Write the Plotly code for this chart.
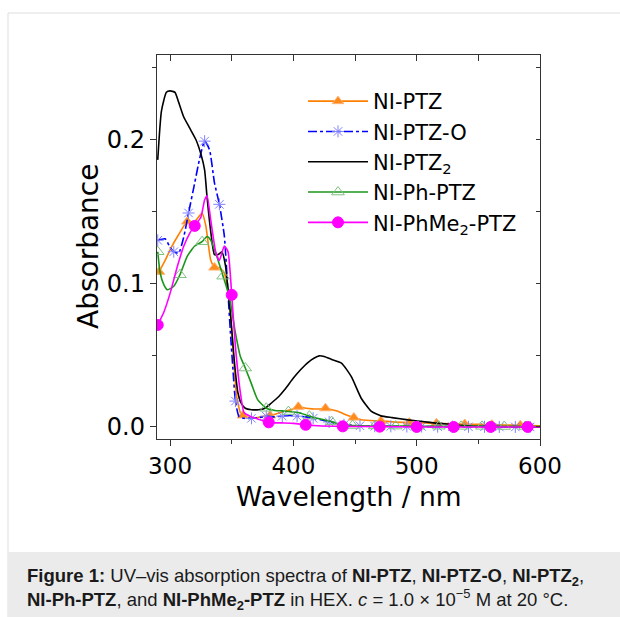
import plotly.graph_objects as go

# ---------------- data ----------------
series_names = ["NI-PTZ", "NI-PTZ-O", "NI-PTZ<sub>2</sub>", "NI-Ph-PTZ", "NI-PhMe<sub>2</sub>-PTZ"]

ptz_wl = [290, 291, 296, 301, 307, 314, 318, 322, 326, 329, 333, 336, 340, 344, 348, 351, 354, 357, 359, 362,
          366, 371, 376, 381, 386, 392, 398, 404, 410, 415, 420, 426, 431, 436, 441, 449, 455, 462, 471, 480,
          494, 505, 516, 528, 539, 550, 561, 572, 584, 592, 600]
ptz_abs = [0.106, 0.108, 0.116, 0.125, 0.134, 0.143, 0.141, 0.145, 0.149, 0.140, 0.116, 0.111, 0.111, 0.107, 0.088,
           0.054, 0.021, 0.010, 0.008, 0.007, 0.0063, 0.0065, 0.0075, 0.008, 0.009, 0.0107, 0.012, 0.014, 0.013, 0.0126,
           0.0125, 0.013, 0.012, 0.011, 0.009, 0.0065, 0.005, 0.0045, 0.0042, 0.0035, 0.003, 0.0028, 0.0025, 0.0022, 0.002,
           0.0018, 0.0016, 0.0014, 0.0012, 0.001, 0.0008]
ptz_marks = [291, 314, 336, 359, 381, 404, 426, 449, 471, 494, 516, 539, 561, 584]

ptzo_wl = [290, 296, 300, 303, 307, 311, 315, 320, 324, 328, 332, 336, 340, 344, 347, 349, 351, 353, 356, 360,
           366, 372, 378, 384, 391, 397, 403, 410, 416, 422, 429, 435, 441, 454, 466, 479, 492, 504, 517, 529,
           542, 555, 567, 580, 592, 600]
ptzo_abs = [0.130, 0.131, 0.125, 0.122, 0.121, 0.132, 0.149, 0.170, 0.187, 0.199, 0.193, 0.170, 0.155, 0.133, 0.093,
            0.065, 0.040, 0.018, 0.007, 0.006, 0.006, 0.0065, 0.0075, 0.007, 0.0075, 0.008, 0.0075, 0.007, 0.006, 0.005,
            0.0035, 0.0025, 0.0015, 0.0008, 0.0005, 0.0004, 0.0003, 0.0003, 0.0002, 0.0002, 0.0001, 0.0001, 0.0, 0.0, 0.0, 0.0]
ptzo_marks = [290, 303, 315, 328, 340, 353, 366, 378, 391, 403, 416, 429, 441, 454, 466, 479, 492, 504, 517, 529,
              542, 555, 567, 580, 592]

ptz2_wl = [290, 293, 297, 300, 304, 307, 311, 316, 321, 325, 328, 330, 333, 336, 339, 342, 345, 347, 349, 352,
           355, 358, 361, 366, 372, 377, 382, 388, 393, 400, 406, 412, 417, 421, 425, 431, 439, 447, 455, 463,
           471, 480, 493, 505, 514, 528, 542, 560, 580, 600]
ptz2_abs = [0.186, 0.220, 0.233, 0.234, 0.233, 0.226, 0.216, 0.208, 0.200, 0.190, 0.179, 0.160, 0.136, 0.120, 0.120,
            0.122, 0.112, 0.095, 0.079, 0.047, 0.024, 0.016, 0.013, 0.012, 0.012, 0.013, 0.0165, 0.021, 0.026, 0.034,
            0.040, 0.045, 0.048, 0.0495, 0.049, 0.047, 0.0445, 0.035, 0.020, 0.011, 0.0077, 0.0065, 0.0049, 0.0038, 0.0028,
            0.0018, 0.0008, 0.0004, 0.0002, 0.0]
ptz2_marks = []

phptz_wl = [290, 292, 295, 298, 303, 308, 314, 320, 326, 330, 333, 337, 343, 348, 353, 357, 361, 366, 371, 378,
            385, 391, 396, 404, 413, 422, 431, 437, 448, 466, 483, 501, 518, 536, 553, 571, 588, 600]
phptz_abs = [0.122, 0.107, 0.099, 0.0955, 0.098, 0.106, 0.119, 0.126, 0.129, 0.1326, 0.130, 0.121, 0.105, 0.0908, 0.0655,
             0.049, 0.041, 0.030, 0.019, 0.013, 0.0115, 0.0112, 0.0107, 0.0100, 0.0075, 0.0055, 0.0037, 0.0017, 0.0010, 0.0007,
             0.0006, 0.0005, 0.0005, 0.0004, 0.0004, 0.0003, 0.0003, 0.0003]
phptz_marks = [290, 308, 326, 343, 361, 378, 396, 413, 431, 448, 466, 483, 501, 518, 536, 553, 571, 588]

phme2_wl = [290, 295, 300, 306, 311, 316, 320, 325, 328, 330, 333, 337, 340, 344, 347, 350, 353, 357, 360, 366,
            371, 380, 390, 400, 410, 420, 440, 470, 500, 530, 560, 590, 600]
phme2_abs = [0.071, 0.080, 0.093, 0.112, 0.1256, 0.135, 0.140, 0.146, 0.158, 0.161, 0.144, 0.122, 0.116, 0.126, 0.122,
             0.092, 0.056, 0.024, 0.010, 0.007, 0.0056, 0.0032, 0.0028, 0.0025, 0.0015, 0.0008, 0.0004, 0.0002, 0.0, 0.0,
             0.0, 0.0, 0.0]
phme2_marks = [290, 320, 350, 380, 410, 440, 470, 500, 530, 560, 590]

x_ticks = [300, 400, 500, 600]
y_ticks = [0.0, 0.1, 0.2]

# ---------------- styles ----------------
styles = [
    dict(color="#FF8000", dash="solid", symbol="triangle-up", mfill="#FF8C1A", mline="#FFB070", msize=10),
    dict(color="#0000FF", dash="dashdot", symbol="asterisk-open", mfill="#8080FF", mline="#8080FF", msize=10),
    dict(color="#000000", dash="solid", symbol=None, mfill=None, mline=None, msize=0),
    dict(color="#1A961A", dash="solid", symbol="triangle-up-open", mfill="#80C080", mline="#80C080", msize=11),
    dict(color="#FF00FF", dash="solid", symbol="circle", mfill="#FF00FF", mline="#FF00FF", msize=11),
]
data = [
    (ptz_wl, ptz_abs, ptz_marks),
    (ptzo_wl, ptzo_abs, ptzo_marks),
    (ptz2_wl, ptz2_abs, ptz2_marks),
    (phptz_wl, phptz_abs, phptz_marks),
    (phme2_wl, phme2_abs, phme2_marks),
]

CHART_FONT = "DejaVu Sans"
fig = go.Figure()

for i, (name, st, (wl, ab, marks)) in enumerate(zip(series_names, styles, data)):
    grp = "g%d" % i
    fig.add_trace(go.Scatter(
        x=wl, y=ab, mode="lines", showlegend=False, legendgroup=grp,
        line=dict(color=st["color"], width=1.6, dash=st["dash"], shape="spline", smoothing=0.5),
        hoverinfo="skip"))
    if marks:
        mx = [w for w in wl if w in marks]
        my = [a for w, a in zip(wl, ab) if w in marks]
        fig.add_trace(go.Scatter(
            x=mx, y=my, mode="markers", showlegend=False, legendgroup=grp,
            marker=dict(symbol=st["symbol"], size=st["msize"], color=st["mfill"],
                        line=dict(color=st["mline"], width=1)),
            hoverinfo="skip"))
    # legend entry
    if st["symbol"]:
        fig.add_trace(go.Scatter(
            x=[None], y=[None], mode="lines+markers", name=name, legendgroup=grp,
            line=dict(color=st["color"], width=1.6, dash=st["dash"]),
            marker=dict(symbol=st["symbol"], size=st["msize"], color=st["mfill"],
                        line=dict(color=st["mline"], width=1))))
    else:
        fig.add_trace(go.Scatter(
            x=[None], y=[None], mode="lines", name=name, legendgroup=grp,
            line=dict(color=st["color"], width=1.6, dash=st["dash"])))

# ---------------- layout ----------------
L, T, W, H = 157, 55, 383, 384
FIG_W, FIG_H = 620, 617


def px(xp):
    return (xp - L) / W


def py(yp):
    return (T + H - yp) / H


xr = [289.4, 600]
yr = [-0.0084, 0.259]
axis_col = "#333333"

fig.update_layout(
    width=FIG_W, height=FIG_H, autosize=False,
    margin=dict(l=L, r=FIG_W - L - W, t=T, b=FIG_H - T - H, pad=0),
    paper_bgcolor="white", plot_bgcolor="white",
    font=dict(family=CHART_FONT, color="black"),
    xaxis=dict(range=xr, tickvals=x_ticks, ticktext=[str(v) for v in x_ticks],
               ticks="outside", ticklen=6, tickwidth=1.2, tickcolor=axis_col,
               minor=dict(dtick=50, tick0=300, ticks="outside", ticklen=4, tickwidth=1.2, tickcolor=axis_col),
               showline=True, linecolor=axis_col, linewidth=1.4, mirror=True,
               showgrid=False, zeroline=False,
               tickfont=dict(size=23, family=CHART_FONT)),
    yaxis=dict(range=yr, tickvals=y_ticks, ticktext=["%.1f" % v for v in y_ticks],
               ticks="outside", ticklen=6, tickwidth=1.2, tickcolor=axis_col,
               minor=dict(dtick=0.05, tick0=0, ticks="outside", ticklen=4, tickwidth=1.2, tickcolor=axis_col),
               showline=True, linecolor=axis_col, linewidth=1.4, mirror=True,
               showgrid=False, zeroline=False,
               tickfont=dict(size=24, family=CHART_FONT)),
    xaxis2=dict(range=xr, overlaying="x", side="top", anchor="y", dtick=50, tick0=300,
                ticks="inside", ticklen=6, tickwidth=1.2, tickcolor=axis_col,
                showticklabels=False, showgrid=False, zeroline=False, showline=False),
    yaxis2=dict(range=yr, overlaying="y", side="right", anchor="x", dtick=0.05, tick0=0,
                ticks="inside", ticklen=4, tickwidth=1.2, tickcolor=axis_col,
                showticklabels=False, showgrid=False, zeroline=False, showline=False),
    legend=dict(x=px(303), y=py(81), xanchor="left", yanchor="top",
                bgcolor="rgba(0,0,0,0)", borderwidth=0,
                font=dict(size=21, family=CHART_FONT, color="black"),
                traceorder="grouped", tracegroupgap=0, itemwidth=60),
    shapes=[
        dict(type="rect", xref="paper", yref="paper", x0=px(8), x1=px(640), y0=py(640), y1=py(13),
             line=dict(color="#DDDDDD", width=1), fillcolor="rgba(0,0,0,0)", layer="below"),
        dict(type="rect", xref="paper", yref="paper", x0=px(8), x1=px(640), y0=py(640), y1=py(552),
             line=dict(width=0), fillcolor="#EBEBEB", layer="below"),
    ],
    annotations=[
        dict(xref="paper", yref="paper", x=px(349), y=py(496), xanchor="center", yanchor="middle", showarrow=False,
             text="Wavelength / nm", font=dict(size=26.5, family=CHART_FONT, color="black")),
        dict(xref="paper", yref="paper", x=px(88), y=py(247), xanchor="center", yanchor="middle", showarrow=False,
             text="Absorbance", textangle=-90, font=dict(size=28, family=CHART_FONT, color="black")),
        dict(xref="paper", yref="paper", x=px(25), y=py(577), xanchor="left", yanchor="middle", showarrow=False,
             text="<b>Figure 1:</b> UV–vis absorption spectra of <b>NI-PTZ</b>, <b>NI-PTZ-O</b>, <b>NI-PTZ<sub>2</sub></b>,",
             font=dict(size=18.5, family="Liberation Sans", color="#1A1A1A")),
        dict(xref="paper", yref="paper", x=px(25), y=py(599), xanchor="left", yanchor="middle", showarrow=False,
             text="<b>NI-Ph-PTZ</b>, and <b>NI-PhMe<sub>2</sub>-PTZ</b> in HEX. <i>c</i> = 1.0 × 10<sup>−5</sup> M at 20 °C.",
             font=dict(size=18.5, family="Liberation Sans", color="#1A1A1A")),
    ],
)

# invisible anchor traces so the mirrored axes render
fig.add_trace(go.Scatter(x=[None], y=[None], xaxis="x2", yaxis="y", showlegend=False, hoverinfo="skip"))
fig.add_trace(go.Scatter(x=[None], y=[None], xaxis="x", yaxis="y2", showlegend=False, hoverinfo="skip"))

fig.write_html("out.html", config={"displayModeBar": False},
               post_script="document.body.style.margin='0px';")
